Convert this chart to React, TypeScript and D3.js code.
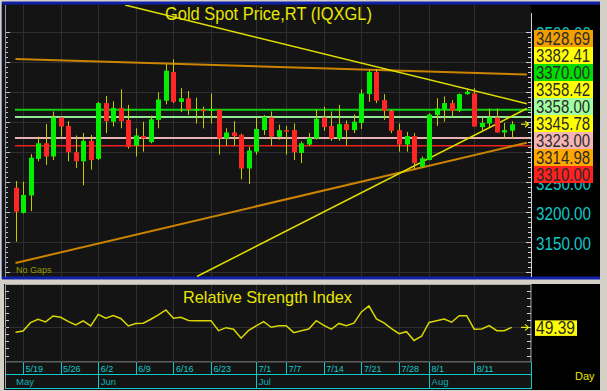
import React from "react";
import * as d3 from "d3";

const dates = [
  "5/16",
  "5/19","5/20","5/21","5/22","5/23",
  "5/26","5/27","5/28","5/29","5/30",
  "6/2","6/3","6/4","6/5","6/6",
  "6/9","6/10","6/11","6/12","6/13",
  "6/16","6/17","6/18","6/19","6/20",
  "6/23","6/24","6/25","6/26","6/27",
  "6/30","7/1","7/2","7/3","7/4",
  "7/7","7/8","7/9","7/10","7/11",
  "7/14","7/15","7/16","7/17","7/18",
  "7/21","7/22","7/23","7/24","7/25",
  "7/28","7/29","7/30","7/31","8/1",
  "8/4","8/5","8/6","8/7","8/8",
  "8/11","8/12","8/13","8/14","8/15",
  "8/18",
];

const opens = [
  3240, 3198, 3227, 3288, 3314, 3292, 3357, 3343, 3299, 3284,
  3318, 3288, 3381, 3350, 3373, 3353, 3310, 3326, 3316, 3353,
  3385, 3433, 3383, 3389, 3369, 3370, 3369, 3370, 3322, 3332,
  3328, 3272, 3300, 3336, 3357, 3325, 3336, 3336, 3298, 3312,
  3322, 3357, 3343, 3322, 3346, 3336, 3348, 3396, 3433, 3386,
  3368, 3336, 3312, 3326, 3275, 3286, 3361, 3370, 3381, 3368,
  3396, 3397, 3341, 3347, 3357, 3332, 3335,
];
const highs = [
  3251, 3250, 3296, 3325, 3346, 3367, 3358, 3351, 3327, 3331,
  3328, 3383, 3393, 3384, 3404, 3378, 3339, 3350, 3360, 3399,
  3446, 3454, 3406, 3401, 3390, 3375, 3397, 3370, 3339, 3351,
  3330, 3308, 3357, 3361, 3367, 3345, 3343, 3347, 3317, 3331,
  3370, 3375, 3367, 3378, 3352, 3362, 3404, 3436, 3438, 3396,
  3370, 3347, 3333, 3331, 3292, 3364, 3389, 3392, 3386, 3397,
  3406, 3406, 3356, 3372, 3372, 3348, 3351,
];
const lows = [
  3150, 3197, 3201, 3284, 3278, 3286, 3325, 3284, 3273, 3244,
  3270, 3286, 3331, 3342, 3339, 3305, 3292, 3300, 3314, 3339,
  3379, 3381, 3366, 3361, 3347, 3339, 3347, 3295, 3310, 3310,
  3254, 3246, 3295, 3328, 3310, 3320, 3295, 3286, 3281, 3310,
  3320, 3335, 3318, 3318, 3310, 3331, 3338, 3383, 3381, 3353,
  3331, 3300, 3300, 3270, 3273, 3286, 3343, 3350, 3358, 3366,
  3395, 3342, 3336, 3341, 3332, 3321, 3322,
];
const closes = [
  3200, 3228, 3290, 3314, 3292, 3357, 3342, 3299, 3284, 3318,
  3286, 3381, 3351, 3373, 3351, 3308, 3327, 3322, 3354, 3387,
  3435, 3383, 3389, 3370, 3371, 3368, 3371, 3322, 3332, 3326,
  3272, 3302, 3338, 3358, 3325, 3336, 3335, 3299, 3314, 3323,
  3355, 3341, 3322, 3346, 3336, 3350, 3397, 3433, 3385, 3368,
  3335, 3312, 3326, 3281, 3289, 3362, 3372, 3381, 3368, 3396,
  3400, 3342, 3348, 3357, 3332, 3336, 3345.78,
];

const rsiValues = [
  42.6, 44.4, 56.0, 60.8, 57.0, 65.4, 63.6, 57.7, 52.8, 58.4,
  51.4, 67.5, 62.2, 65.8, 61.9, 51.4, 54.9, 55.2, 60.8, 66.9,
  73.8, 62.2, 63.6, 59.1, 58.8, 58.8, 58.8, 44.8, 49.0, 46.8,
  34.2, 45.1, 51.4, 57.4, 49.6, 51.8, 51.8, 42.0, 44.8, 47.2,
  58.8, 52.1, 46.8, 54.9, 51.8, 55.2, 71.0, 79.4, 61.2, 55.6,
  47.6, 40.5, 43.4, 31.1, 37.0, 56.3, 58.8, 61.2, 56.6, 65.8,
  65.8, 46.8, 47.2, 51.8, 44.8, 44.8, 49.39,
];
const lastRsi = 49.39;

const weekTicks = ["5/19", "5/26", "6/2", "6/9", "6/16", "6/23", "7/1", "7/7", "7/14", "7/21", "7/28", "8/1", "8/11"];
const monthLabels = ["May", "Jun", "Jul", "Aug"];
const monthStarts = ["5/16", "6/2", "7/1", "8/1"];

const gridPrices = [3100, 3150, 3200, 3250, 3300, 3350, 3400, 3450, 3500];
// axis labels visible in the reference (the others sit behind the marker boxes)
const priceTicks = [3150, 3200, 3250, 3500];

// horizontal levels
const levelValues = [3370, 3358, 3323, 3310];
const levelColors = ["#10d010", "#90e890", "#e8b0b0", "#e82020"];

// trend lines: [startIndex, startPrice, endIndex, endPrice]
const orangeDown = [0, 3454.5, 68, 3428.69];
const orangeUp = [0, 3114.5, 68, 3314.98];
const yellowDown = [14.56, 3544.5, 68, 3380];
const yellowUp = [24.13, 3092, 68, 3372];

const markerValues = [3428.69, 3382.41, 3370.0, 3358.42, 3358.0, 3345.78, 3323.0, 3314.98, 3310.0];
const markerColors = ["#f2a000", "#ffff00", "#00dc00", "#ffff00", "#a0ffa0", "#ffff00", "#f4b4b4", "#ffa800", "#ff2020"];

export default function App() {
  const W = 607;
  const H = 391;
  const PX0 = 5, PX1 = 531, PY0 = 5, PY1 = 277;
  const RY0 = 285, RY1 = 362;
  const BOX_TOP = 30, BOX_H = 17;

  const x = d3.scaleLinear().domain([0, dates.length - 1]).range([15.5, 511.8]);
  const y = d3.scaleLinear().domain([3100, 3500]).range([271.7, 31.7]);
  const yr = d3.scaleLinear().domain([0, 100]).range([362.7, 291.2]);
  const xd = (d: string) => x(dates.indexOf(d));
  const cx = (v: number) => Math.round(v) + 0.5;

  const rsiLine = d3
    .line<number>()
    .x((_, i) => x(i))
    .y((v) => yr(v));

  const minorTicks = d3.range(0, 49).map((k) => 3100 + (k * 50) / 6);
  const rsiTicks = d3.range(0, 101, 10);
  const boxBottom = BOX_TOP + BOX_H * markerValues.length;

  const cyan = "#10c8c8";
  const grid = "#2e2e2e";

  const trend = (t: number[], color: string, w: number, key: string) => (
    <line
      key={key}
      x1={x(t[0])}
      y1={y(t[1])}
      x2={x(t[2])}
      y2={y(t[3])}
      stroke={color}
      strokeWidth={w}
    />
  );

  const arrow = (ay: number, key: string) => (
    <g key={key} stroke="#e8e800" strokeWidth={1.2} fill="none">
      <line x1={521} y1={ay} x2={528} y2={ay} />
      <path d={`M${525},${ay - 3} L${528.5},${ay} L${525},${ay + 3}`} />
    </g>
  );

  return (
    <svg
      width={W}
      height={H}
      style={{ position: "fixed", left: 0, top: 0, display: "block" }}
      fontFamily="'Liberation Sans', Arial, sans-serif"
    >
      <defs>
        <clipPath id="mainClip">
          <rect x={PX0} y={PY0} width={PX1 - PX0} height={PY1 - PY0} />
        </clipPath>
        <clipPath id="rsiClip">
          <rect x={PX0} y={RY0} width={PX1 - PX0} height={RY1 - RY0} />
        </clipPath>
        <clipPath id="axisClip">
          <rect x={PX1} y={PY0} width={600 - PX1} height={BOX_TOP - PY0} />
          <rect x={PX1} y={boxBottom} width={600 - PX1} height={PY1 - boxBottom} />
        </clipPath>
      </defs>

      {/* window background */}
      <rect x={0} y={0} width={W} height={H} fill="#d4d0c8" />

      {/* main panel */}
      <rect x={2} y={2} width={598} height={277} fill="#141414" />
      <rect x={PX1} y={PY0} width={600 - PX1} height={PY1 - PY0} fill="#000" />
      <line x1={2} y1={3} x2={600} y2={3} stroke="#1020a8" strokeWidth={3} />
      <line x1={2} y1={278} x2={600} y2={278} stroke="#1020a8" strokeWidth={3} />
      <line x1={1.5} y1={2} x2={1.5} y2={279} stroke="#8890b8" strokeWidth={1} />

      {/* grid main */}
      <g clipPath="url(#mainClip)">
        {gridPrices.map((p) => (
          <line key={"hg" + p} x1={PX0} x2={PX1} y1={cx(y(p))} y2={cx(y(p))} stroke={grid} strokeWidth={1} />
        ))}
        {weekTicks.map((d) => (
          <line key={"vg" + d} x1={cx(xd(d))} x2={cx(xd(d))} y1={PY0} y2={PY1} stroke={grid} strokeWidth={1} />
        ))}

        {/* level lines */}
        {levelValues.map((v, k) => (
          <line
            key={"lv" + v}
            x1={15}
            x2={PX1}
            y1={y(v)}
            y2={y(v)}
            stroke={levelColors[k]}
            strokeWidth={k === 3 ? 1.5 : 2}
          />
        ))}

        {/* trend lines */}
        {trend(orangeDown, "#cc8400", 2, "od")}
        {trend(orangeUp, "#cc8400", 2, "ou")}
        {trend(yellowDown, "#e0e000", 1.5, "yd")}
        {trend(yellowUp, "#e0e000", 1.5, "yu")}

        {/* candles */}
        {dates.map((d, i) => {
          const xc = Math.round(x(i));
          const o = opens[i], c = closes[i];
          const up = c >= o;
          const top = y(Math.max(o, c));
          const bot = y(Math.min(o, c));
          return (
            <g key={"c" + i}>
              <line
                x1={xc + 0.5}
                x2={xc + 0.5}
                y1={y(highs[i])}
                y2={y(lows[i])}
                stroke="#c8c800"
                strokeWidth={1}
              />
              <rect
                x={xc - 2}
                y={top}
                width={5}
                height={Math.max(bot - top, 1.5)}
                fill={up ? "#00f000" : "#ff2626"}
              />
            </g>
          );
        })}

        <text x={16} y={273} fontSize={9} fill="#9a9a00">
          No Gaps
        </text>
      </g>

      {/* title */}
      <text x={165} y={20} fontSize={18} fill="#e6e600" textLength={207} lengthAdjust="spacingAndGlyphs">
        Gold  Spot  Price,RT  (IQXGL)
      </text>

      {/* left axis main */}
      <line x1={5.5} x2={5.5} y1={PY0} y2={PY1} stroke="#9098b0" />
      {minorTicks.map((p, k) => (
        <line
          key={"lt" + k}
          x1={6}
          x2={k % 6 === 0 ? 10 : 8}
          y1={cx(y(p))}
          y2={cx(y(p))}
          stroke="#c8c8c8"
        />
      ))}

      {/* right axis main */}
      <line x1={531.5} x2={531.5} y1={PY0 + 8} y2={PY1} stroke="#d0d0d0" />
      {minorTicks.map((p, k) => (
        <line
          key={"rt" + k}
          x1={k % 6 === 0 ? 526 : 528}
          x2={531}
          y1={cx(y(p))}
          y2={cx(y(p))}
          stroke="#d0d0d0"
        />
      ))}
      <g clipPath="url(#axisClip)">
        {priceTicks.map((p) => (
          <text
            key={"pl" + p}
            x={536}
            y={y(p) + 8}
            fontSize={19}
            fill={cyan}
            textLength={55}
            lengthAdjust="spacingAndGlyphs"
          >
            {p.toFixed(2)}
          </text>
        ))}
      </g>

      {/* marker boxes */}
      {markerValues.map((v, k) => (
        <g key={"mb" + k}>
          <rect x={534} y={BOX_TOP + k * BOX_H} width={59} height={BOX_H} fill={markerColors[k]} />
          <text
            x={536}
            y={BOX_TOP + k * BOX_H + 14.5}
            fontSize={18}
            fill="#2a2a2a"
            textLength={54}
            lengthAdjust="spacingAndGlyphs"
          >
            {v.toFixed(2)}
          </text>
        </g>
      ))}
      {arrow(y(closes[closes.length - 1]), "a1")}

      {/* RSI panel */}
      <rect x={4} y={RY0 - 1} width={596} height={106} fill="#141414" />
      <rect x={PX1} y={RY0 - 1} width={600 - PX1} height={106} fill="#000" />
      <rect x={5.5} y={RY0 - 0.5} width={PX1 - 5.5} height={RY1 - RY0 + 0.5} fill="none" stroke="#a8a8a8" />

      <g clipPath="url(#rsiClip)">
        <line x1={PX0} x2={PX1} y1={cx(yr(50))} y2={cx(yr(50))} stroke={grid} />
        {weekTicks.map((d) => (
          <line key={"rvg" + d} x1={cx(xd(d))} x2={cx(xd(d))} y1={RY0} y2={RY1} stroke={grid} />
        ))}
        <path d={rsiLine(rsiValues) || ""} fill="none" stroke="#d8d800" strokeWidth={1.5} />
      </g>

      <text x={183} y={303} fontSize={17} fill="#e6e600" textLength={169} lengthAdjust="spacingAndGlyphs">
        Relative  Strength  Index
      </text>

      {rsiTicks.map((v) => (
        <g key={"rk" + v}>
          <line x1={6} x2={9} y1={cx(yr(v))} y2={cx(yr(v))} stroke="#c8c8c8" />
          <line x1={527} x2={531} y1={cx(yr(v))} y2={cx(yr(v))} stroke="#d0d0d0" />
        </g>
      ))}
      {arrow(yr(lastRsi), "a2")}
      <rect x={535} y={yr(lastRsi) - 7} width={42} height={15.5} fill="#ffff00" />
      <text
        x={536}
        y={yr(lastRsi) + 7}
        fontSize={18}
        fill="#2a2a2a"
        textLength={39}
        lengthAdjust="spacingAndGlyphs"
      >
        {lastRsi.toFixed(2)}
      </text>

      {/* x axis */}
      <rect x={5} y={362.5} width={PX1 - 5} height={26} fill="#141414" />
      <line x1={5} x2={PX1 + 0.5} y1={374.5} y2={374.5} stroke={cyan} />
      <line x1={5} x2={PX1 + 0.5} y1={388.5} y2={388.5} stroke={cyan} />
      <line x1={PX1 + 0.5} x2={PX1 + 0.5} y1={362} y2={389} stroke={cyan} />
      <line x1={5.5} x2={5.5} y1={362} y2={389} stroke="#a8a8a8" />
      {weekTicks.map((d) => (
        <g key={"wt" + d}>
          <line x1={cx(xd(d))} x2={cx(xd(d))} y1={362} y2={374} stroke={cyan} />
          <text x={xd(d) + 2.5} y={372} fontSize={9} fill={cyan}>
            {d}
          </text>
        </g>
      ))}
      {monthLabels.map((m, k) => (
        <g key={"mt" + m}>
          {k > 0 && (
            <line
              x1={cx(xd(monthStarts[k]))}
              x2={cx(xd(monthStarts[k]))}
              y1={374}
              y2={389}
              stroke={cyan}
            />
          )}
          <text x={k === 0 ? 16 : xd(monthStarts[k]) + 2.5} y={385} fontSize={9.5} fill="#10b0b0">
            {m}
          </text>
        </g>
      ))}
      <text x={575} y={380} fontSize={11} fill="#e6e600">
        Day
      </text>
    </svg>
  );
}
